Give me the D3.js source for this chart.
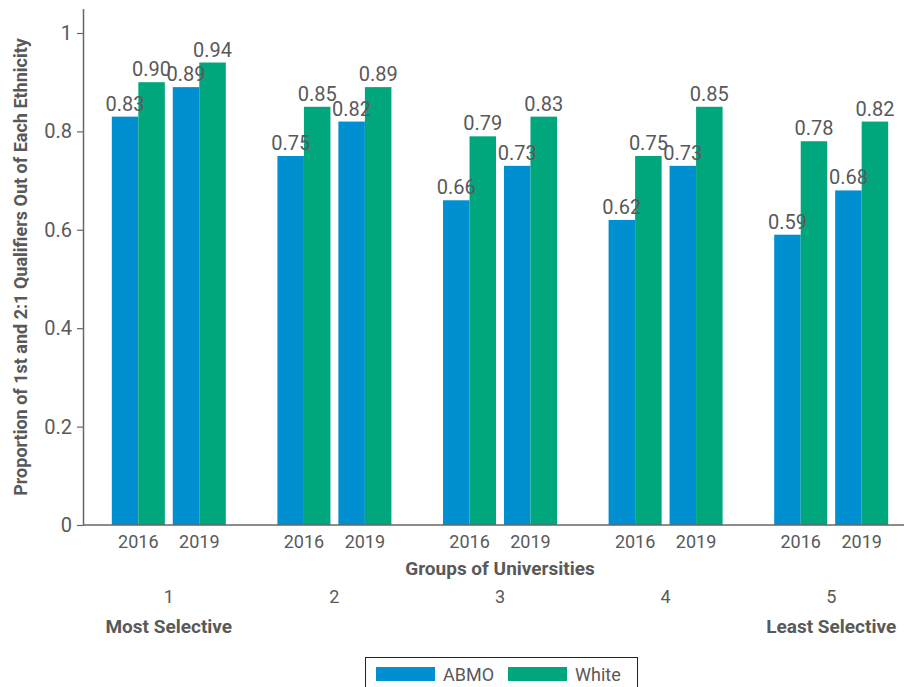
<!DOCTYPE html>
<html>
  <head>
    <meta charset="UTF-8" />
    <script src="https://d3js.org/d3.v7.min.js"></script>
    <style>
      body { margin: 0; background: #fff; }
      text { font-family: Roboto, "DejaVu Sans", sans-serif; fill: #595959; }
    </style>
  </head>
  <body>
    <div id="chart"></div>
    <script>
      // data
      const groups = ["1", "2", "3", "4", "5"];
      const years = ["2016", "2019"];
      const series = ["ABMO", "White"];
      const abmo2016 = [0.83, 0.75, 0.66, 0.62, 0.59];
      const abmo2019 = [0.89, 0.82, 0.73, 0.73, 0.68];
      const white2016 = [0.90, 0.85, 0.79, 0.75, 0.78];
      const white2019 = [0.94, 0.89, 0.83, 0.85, 0.82];
      const yTicks = [0, 0.2, 0.4, 0.6, 0.8, 1];

      const colors = { ABMO: "#008fd1", White: "#00a77d" };
      const width = 904, height = 687;

      const values = {
        ABMO: { "2016": abmo2016, "2019": abmo2019 },
        White: { "2016": white2016, "2019": white2019 }
      };

      const rows = [];
      groups.forEach((g, gi) => {
        years.forEach(yr => {
          series.forEach(s => {
            rows.push({ group: g, year: yr, series: s, value: values[s][yr][gi] });
          });
        });
      });

      const svg = d3.select("#chart").append("svg")
        .attr("width", width).attr("height", height);

      const x0 = d3.scaleBand().domain(groups).range([86, 914]);
      const x1 = d3.scaleBand().domain(years).range([-57, 57]).paddingInner(0.13);
      const x2 = d3.scaleBand().domain(series).range([0, x1.bandwidth()]);
      const y = d3.scaleLinear().domain([0, 1.05]).range([525, 8.4]);

      const gc = g => x0(g) + x0.bandwidth() / 2;

      // y axis
      const yAxis = svg.append("g")
        .attr("transform", "translate(83,0)")
        .call(d3.axisLeft(y).tickValues(yTicks).tickSize(6).tickSizeOuter(0)
          .tickFormat(d => d === 0 ? "0" : d === 1 ? "1" : d3.format(".1f")(d)));
      yAxis.select(".domain").attr("stroke", "#666").attr("stroke-width", 1.5);
      yAxis.selectAll(".tick line").attr("stroke", "#666").attr("stroke-width", 1.2);
      yAxis.selectAll(".tick text").attr("font-size", 20).attr("fill", "#595959")
        .style("font-family", "Roboto, sans-serif").attr("x", -11);

      // bars
      svg.append("g").selectAll("rect").data(rows).join("rect")
        .attr("x", d => gc(d.group) + x1(d.year) + x2(d.series))
        .attr("width", x2.bandwidth())
        .attr("y", d => y(d.value))
        .attr("height", d => y(0) - y(d.value))
        .attr("fill", d => colors[d.series]);

      // value labels
      svg.append("g").selectAll("text").data(rows).join("text")
        .attr("x", d => gc(d.group) + x1(d.year) + x2(d.series) + x2.bandwidth() / 2)
        .attr("y", d => y(d.value) - 6)
        .attr("text-anchor", "middle")
        .attr("font-size", 20)
        .text(d => d3.format(".2f")(d.value));

      // x axis line
      svg.append("line")
        .attr("x1", 83).attr("x2", width).attr("y1", y(0)).attr("y2", y(0))
        .attr("stroke", "#666").attr("stroke-width", 1.5);

      // year labels
      const yearRows = [];
      groups.forEach(g => years.forEach(yr => yearRows.push({ group: g, year: yr })));
      svg.append("g").selectAll("text").data(yearRows).join("text")
        .attr("x", d => gc(d.group) + x1(d.year) + x1.bandwidth() / 2)
        .attr("y", 548)
        .attr("text-anchor", "middle")
        .attr("font-size", 18)
        .text(d => d.year);

      // group numbers
      svg.append("g").selectAll("text").data(groups).join("text")
        .attr("x", d => gc(d))
        .attr("y", 603)
        .attr("text-anchor", "middle")
        .attr("font-size", 18)
        .text(d => d);

      svg.append("text")
        .attr("x", 500).attr("y", 575)
        .attr("text-anchor", "middle")
        .attr("font-size", 19).attr("font-weight", "bold")
        .text("Groups of Universities");

      svg.append("text")
        .attr("x", gc(groups[0])).attr("y", 633)
        .attr("text-anchor", "middle")
        .attr("font-size", 19).attr("font-weight", "bold")
        .text("Most Selective");

      svg.append("text")
        .attr("x", gc(groups[4])).attr("y", 633)
        .attr("text-anchor", "middle")
        .attr("font-size", 19).attr("font-weight", "bold")
        .text("Least Selective");

      // y axis title
      svg.append("text")
        .attr("transform", "translate(27,267) rotate(-90)")
        .attr("text-anchor", "middle")
        .attr("font-size", 18).attr("font-weight", "bold")
        .text("Proportion of 1st and 2:1 Qualifiers Out of Each Ethnicity");

      // legend
      const legend = svg.append("g");
      legend.append("rect")
        .attr("x", 365.5).attr("y", 657.5).attr("width", 272).attr("height", 40)
        .attr("fill", "none").attr("stroke", "#222").attr("stroke-width", 1);
      const legendX = { ABMO: 376, White: 508 };
      series.forEach(s => {
        legend.append("rect")
          .attr("x", legendX[s]).attr("y", 667).attr("width", 59).attr("height", 14)
          .attr("fill", colors[s]);
        legend.append("text")
          .attr("x", legendX[s] + 67).attr("y", 681)
          .attr("font-size", 18)
          .text(s);
      });
    </script>
  </body>
</html>
